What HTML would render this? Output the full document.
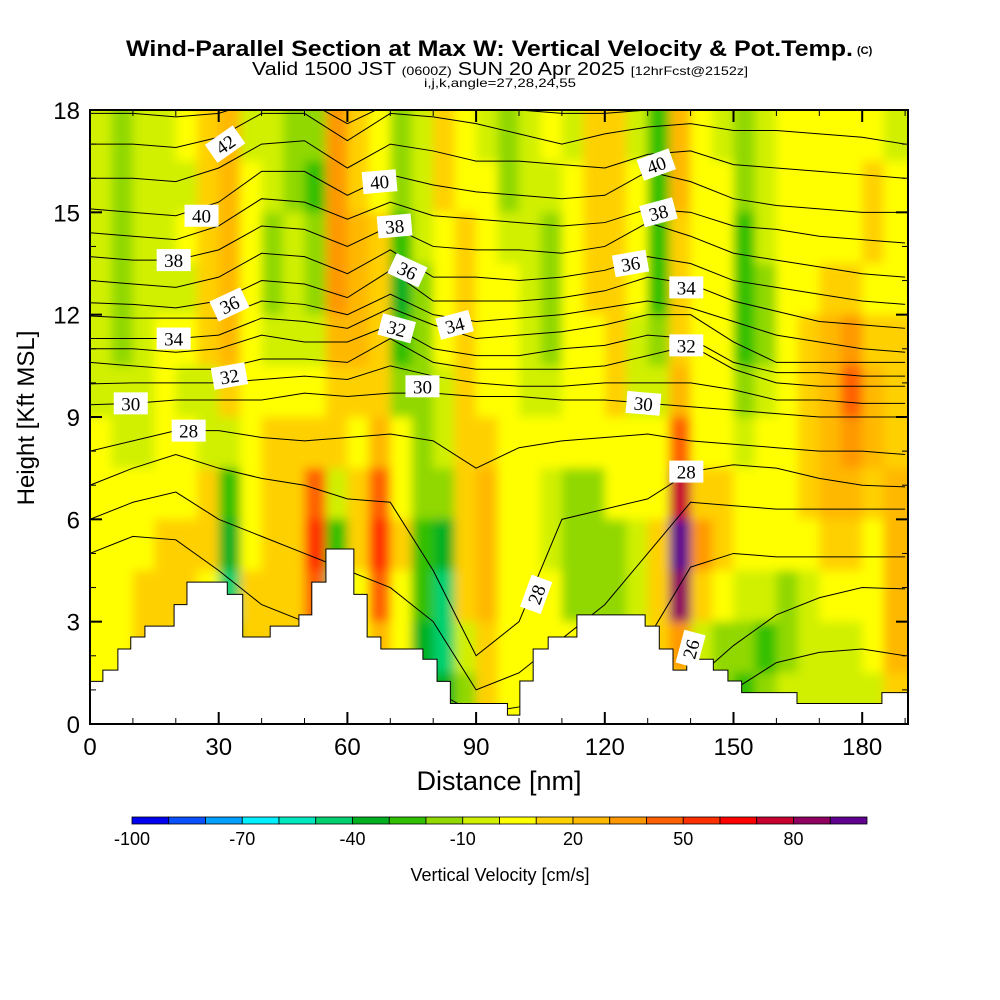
<!DOCTYPE html>
<html><head><meta charset="utf-8"><style>
html,body{margin:0;padding:0;background:#fff;}
svg{display:block;font-family:"Liberation Sans",sans-serif;}
</style></head><body>
<svg id="chart" width="1000" height="1000" viewBox="0 0 1000 1000" xmlns="http://www.w3.org/2000/svg">
<defs>
<clipPath id="plotclip"><rect x="90" y="110" width="818" height="614"/></clipPath>
<filter id="soft" x="-5%" y="-5%" width="110%" height="110%"><feGaussianBlur stdDeviation="5"/></filter>
</defs>
<g>
<text x="126" y="56" font-size="22" font-weight="bold" textLength="727" lengthAdjust="spacingAndGlyphs">Wind-Parallel Section at Max W: Vertical Velocity &amp; Pot.Temp.</text>
<text x="857" y="54" font-size="11" font-weight="bold">(C)</text>
<text x="252" y="75" font-size="18" textLength="496" lengthAdjust="spacingAndGlyphs">Valid 1500 JST <tspan font-size="12">(0600Z)</tspan> SUN 20 Apr 2025 <tspan font-size="12">[12hrFcst@2152z]</tspan></text>
<text x="500" y="87" font-size="12" text-anchor="middle" textLength="152" lengthAdjust="spacingAndGlyphs">i,j,k,angle=27,28,24,55</text>
</g>
<g id="heat" clip-path="url(#plotclip)"><g id="heatcells" filter="url(#soft)"></g></g>
<g id="contours" clip-path="url(#plotclip)"></g>
<g id="terrain"></g>
<g id="clabels" clip-path="url(#plotclip)"></g>
<rect x="90" y="110" width="818" height="614" fill="none" stroke="#000" stroke-width="2"/>
<g id="axes"></g>
<text x="499" y="790" font-size="27" text-anchor="middle">Distance [nm]</text>
<text x="34" y="418" font-size="24" text-anchor="middle" transform="rotate(-90 34 418)">Height [Kft MSL]</text>
<g id="cbar"></g>
<text x="500" y="881" font-size="18" text-anchor="middle">Vertical Velocity [cm/s]</text>
</svg>
<script>
const NS="http://www.w3.org/2000/svg";
const binEdges=[-100,-90,-80,-70,-60,-50,-40,-30,-20,-10,0,10,20,30,40,50,60,70,80,90];
const palette=["#0000f0","#0a50ff","#00a0ff","#00f0ff","#00e8c0","#00d070","#00b020","#30c000","#90d800","#d0f000","#ffff00","#ffd000","#ffb800","#ff9800","#ff6000","#ff3000","#ff0000","#c80030","#900060","#600090"];
const cbarLabels=["-100","-70","-40","-10","20","50","80"];
const colWidthNm=5, rowHeightK=1.5;
const wRows=[
[-5,-15,-5,-5,5,15,25,-5,-5,-15,-15,35,15,5,-15,-5,15,5,-5,-15,-5,5,-5,15,15,-5,-25,25,5,-5,-15,-5,5,5,5,5,5,-5],
[-5,-15,-5,-5,-5,15,25,5,-5,-15,-25,35,15,5,-15,-5,15,5,5,-15,-5,-5,5,15,15,5,-25,25,5,5,-15,-5,5,5,5,5,15,5],
[-5,-15,-5,-5,5,15,25,5,-15,-5,-15,35,25,15,-25,-5,5,15,5,-5,-5,-15,5,15,15,5,-25,15,5,5,-25,-5,5,5,5,5,15,5],
[-5,-15,-5,-5,-5,15,25,5,-15,-5,-15,35,25,15,-35,-15,5,15,5,5,-5,-15,5,15,15,5,-25,15,5,5,-25,-15,5,5,15,15,5,5],
[-5,-15,-5,5,5,15,25,5,-5,-5,-5,25,25,15,-25,-15,5,15,5,5,-5,-15,5,5,15,-5,-15,15,5,5,-25,-15,5,15,25,35,15,15],
[-5,-5,-5,5,-5,-5,15,5,5,5,5,15,15,15,-15,-15,-5,15,5,5,-5,-5,5,5,15,-5,-5,25,5,5,-15,-5,5,15,25,45,25,15],
[5,-5,-5,5,5,-5,-5,5,15,15,15,15,5,25,5,-15,-5,15,15,5,5,5,5,5,5,5,5,45,5,5,-5,5,5,15,25,35,25,15],
[5,5,5,5,5,15,-25,5,15,15,45,-5,15,45,5,-15,-15,15,25,5,5,-5,-15,-15,5,5,5,75,15,15,5,5,5,15,25,25,15,25],
[5,5,5,15,15,15,-35,5,15,15,55,-25,15,55,15,-25,-35,15,25,5,5,-5,-15,-15,-15,-5,15,95,35,15,5,5,5,5,15,15,5,25],
[5,5,15,15,15,5,-45,15,15,15,45,-45,5,45,5,-25,-45,15,25,5,5,5,-15,-15,-15,-5,15,85,15,5,-5,-5,-15,-5,5,5,5,25],
[5,5,15,15,5,5,-25,15,15,15,15,15,5,25,5,-35,-45,-5,15,5,5,5,5,5,5,5,15,35,-5,-15,-15,-25,-15,-5,-5,-5,5,25],
[5,5,5,5,5,5,5,5,5,5,5,5,5,5,5,-25,-35,-15,15,5,5,5,5,5,5,5,5,5,5,-15,-25,-15,-5,-5,-5,-5,-5,15]
];
const terrX=[0,3,6.5,9.5,12.8,19.6,22.6,32,35.6,42,48.7,51.7,55,61.5,64.6,67.8,77.6,80.9,84,97.3,100.2,103.3,106.8,113.5,129.4,132.7,135.9,139.1,145.3,148.7,151.9,164.8,184.6];
const terrH=[1.25,1.58,2.2,2.55,2.87,3.5,4.16,3.8,2.55,2.87,3.2,4.16,5.13,3.8,2.55,2.2,1.9,1.25,0.6,0.26,1.26,2.2,2.55,3.2,2.87,2.2,1.58,1.9,1.58,1.26,0.92,0.6,0.92];
const thetaX=[0,10,20,30,40,50,60,70,80,90,100,110,120,130,140,150,160,170,180,190];
const theta43=[17.9,17.9,17.8,17.9,18.3,18.3,17.6,18.2,18.3,18.2,18.0,17.9,17.9,18.0,18.0,18.1,18.1,18.1,18.1,18.1];
const theta42=[17.0,17.0,16.9,17.2,17.9,17.9,17.1,17.9,17.8,17.6,17.3,17.0,17.3,17.5,17.6,17.4,17.4,17.3,17.2,17.0];
const theta41=[16.0,16.0,15.9,16.3,17.0,17.1,16.3,17.0,16.8,16.5,16.5,16.4,16.3,16.7,16.8,16.4,16.3,16.2,16.1,16.0];
const theta40=[15.1,15.0,14.9,15.3,16.2,16.2,15.5,16.1,15.8,15.6,15.5,15.4,15.5,16.2,15.9,15.4,15.2,15.1,15.0,15.0];
const theta39=[14.4,14.3,14.2,14.6,15.4,15.3,14.8,15.3,14.9,14.8,14.7,14.6,14.7,15.1,15.0,14.6,14.5,14.3,14.2,14.1];
const theta38=[13.7,13.6,13.6,13.9,14.6,14.5,14.0,14.6,14.0,13.9,13.9,13.8,14.0,14.7,14.3,13.8,13.6,13.4,13.2,13.1];
const theta37=[13.0,12.9,12.8,13.1,13.8,13.7,13.2,13.9,13.1,13.1,13.0,13.1,13.3,13.7,13.5,13.0,12.8,12.6,12.4,12.3];
const theta36=[12.35,12.3,12.2,12.4,13.0,12.9,12.5,13.3,12.4,12.4,12.4,12.5,12.7,13.1,12.9,12.4,12.1,11.8,11.7,11.6];
const theta35=[11.96,11.9,11.9,11.9,12.4,12.3,12.0,12.6,12.0,11.8,11.9,12.0,12.2,12.4,12.2,11.8,11.4,11.2,11.0,10.9];
const theta34=[11.3,11.3,11.3,11.4,11.9,11.8,11.6,12.2,11.7,11.3,11.4,11.5,11.7,12.0,12.0,11.2,10.6,10.6,10.6,10.6];
const theta33=[11.0,11.0,10.9,11.0,11.4,11.2,11.2,11.7,11.0,10.8,10.8,11.0,11.1,11.4,11.3,10.6,10.3,10.3,10.2,10.2];
const theta32=[10.6,10.5,10.4,10.4,10.7,10.7,10.6,11.3,10.6,10.4,10.4,10.4,10.5,10.8,11.1,10.4,10.0,9.9,9.9,9.9];
const theta31=[9.97,10.0,10.0,10.0,10.1,10.2,10.1,10.5,10.2,10.0,9.9,9.9,10.0,10.0,10.0,9.8,9.5,9.5,9.4,9.4];
const theta30=[9.36,9.4,9.5,9.5,9.5,9.7,9.6,9.7,9.7,9.6,9.6,9.5,9.5,9.4,9.3,9.2,9.1,9.0,9.0,9.0];
const theta29=[8.0,8.3,8.6,8.6,8.4,8.3,8.4,8.5,8.3,7.5,8.1,8.3,8.4,8.5,8.3,8.2,8.1,8.0,8.0,7.9];
const theta28=[7.0,7.5,7.9,7.5,7.2,7.0,6.6,6.5,4.5,2.0,3.0,6.0,6.3,6.6,7.4,7.6,7.5,7.2,7.0,6.95];
const theta27=[6.0,6.5,6.8,6.0,5.5,5.0,4.5,4.0,3.0,1.0,1.5,2.5,3.5,5.0,6.5,6.4,6.3,6.3,6.3,6.3];
const theta26=[5.0,5.5,5.4,4.5,3.5,3.0,2.5,2.0,1.0,0.3,0.5,1.0,1.5,2.5,4.6,5.0,4.9,4.9,4.9,4.9];
const theta25=[1,1,1,1,0,0,0,0,0,0,0,0,0,0,1.2,2.3,3.2,3.7,4.0,3.96];
const theta24=[0,0,0,0,0,0,0,0,0,0,0,0,0,0,0.3,1.0,1.8,2.1,2.2,2.0];
const thetaLines=[theta43,theta42,theta41,theta40,theta39,theta38,theta37,theta36,theta35,theta34,theta33,theta32,theta31,theta30,theta29,theta28,theta27,theta26,theta25,theta24];
const labText=["42","40","38","36","34","32","30","28","40","38","36","32","34","30","28","40","38","36","34","32","30","28","26"];
const labX=[31.5,26,19.5,32.5,19.5,32.5,9.5,23,67.5,71,74,71.5,85,77.5,104,132,132.5,126,139,139,129,139,140];
const labY=[17.0,14.9,13.6,12.3,11.3,10.2,9.4,8.6,15.9,14.6,13.3,11.6,11.7,9.9,3.8,16.4,15.0,13.5,12.8,11.1,9.4,7.4,2.2];
const labA=[-35,0,0,-25,0,-10,0,0,-5,-5,25,15,-15,0,-70,-20,-15,-10,0,0,5,0,-75];
const xTicks=[0,30,60,90,120,150,180];
const yTicks=[0,3,6,9,12,15,18];

const X=nm=>90+nm*4.29;
const Y=k=>724-k*34.111;
const XMAX=190.7;
function colorFor(w){let i=0;for(let j=0;j<binEdges.length;j++){if(w>=binEdges[j])i=j;}return palette[i];}
function mk(tag,attrs,parent){const e=document.createElementNS(NS,tag);for(const k in attrs)e.setAttribute(k,attrs[k]);parent.appendChild(e);return e;}

const cells=document.getElementById('heatcells');
wRows.forEach((row,ri)=>{
  const top=18-ri*rowHeightK, bot=top-rowHeightK;
  row.forEach((w,ci)=>{
    const x0=ci*colWidthNm, x1=(ci===row.length-1)?XMAX:(ci+1)*colWidthNm;
    let px0=X(x0),px1=X(x1),py0=Y(top),py1=Y(bot);
    if(ci===0)px0-=20; if(ci===row.length-1)px1+=20; if(ri===0)py0-=20; if(ri===wRows.length-1)py1+=20;
    const r=mk('rect',{x:px0,y:py0,width:px1-px0+0.6,height:py1-py0+0.6,fill:colorFor(w)},cells);
    
    
  });
});

const cg=document.getElementById('contours');
thetaLines.forEach(arr=>{
  const pts=arr.map((h,i)=>X(Math.min(thetaX[i],XMAX))+','+Y(h)).join(' ');
  const p=mk('polyline',{points:pts,fill:'none',stroke:'#000','stroke-width':1},cg);
  
  
});

const tg=document.getElementById('terrain');
let d='M'+X(0)+','+Y(0);
terrX.forEach((x,i)=>{const xe=(i<terrX.length-1)?terrX[i+1]:XMAX;d+=' L'+X(x)+','+Y(terrH[i])+' L'+X(xe)+','+Y(terrH[i]);});
d+=' L'+X(XMAX)+','+Y(0)+' Z';
const tp=mk('path',{d:d,fill:'#fff',stroke:'#000','stroke-width':1},tg);



const lg=document.getElementById('clabels');
labText.forEach((t,i)=>{
  const g=mk('g',{transform:`translate(${X(labX[i])},${Y(labY[i])}) rotate(${labA[i]})`},lg);
  
  
  mk('rect',{x:-17,y:-11,width:34,height:22,fill:'#fff'},g);
  const tx=mk('text',{x:0,y:7,'font-size':19,'text-anchor':'middle','font-family':'"Liberation Serif",serif'},g);
  tx.textContent=t;
});

const ag=document.getElementById('axes');
for(let v=0;v<=190;v+=10){
  const major=(v%30===0), L=major?12:6;
  mk('line',{x1:X(v),x2:X(v),y1:724,y2:724-L,stroke:'#000','stroke-width':major?2:1},ag);
  mk('line',{x1:X(v),x2:X(v),y1:110,y2:110+L,stroke:'#000','stroke-width':major?2:1},ag);
}
for(let v=0;v<=18;v++){
  const major=(v%3===0), L=major?12:6;
  mk('line',{x1:90,x2:90+L,y1:Y(v),y2:Y(v),stroke:'#000','stroke-width':major?2:1},ag);
  mk('line',{x1:908,x2:908-L,y1:Y(v),y2:Y(v),stroke:'#000','stroke-width':major?2:1},ag);
}
xTicks.forEach(v=>{const t=mk('text',{x:X(v),y:755,'font-size':24,'text-anchor':'middle'},ag);t.textContent=v;
  });
yTicks.forEach(v=>{const t=mk('text',{x:80,y:Y(v)+9,'font-size':24,'text-anchor':'end'},ag);t.textContent=v;
  });

const cb=document.getElementById('cbar');
const cbW=(867-132)/palette.length;
palette.forEach((c,i)=>{
  const r=mk('rect',{x:132+i*cbW,y:817,width:cbW,height:7,fill:c,stroke:'#000','stroke-width':0.8},cb);
  
  
});
cbarLabels.forEach((s,i)=>{
  const t=mk('text',{x:132+i*3*cbW,y:845,'font-size':18,'text-anchor':'middle'},cb);
  t.textContent=s;
  
  
});
</script>
</body></html>
